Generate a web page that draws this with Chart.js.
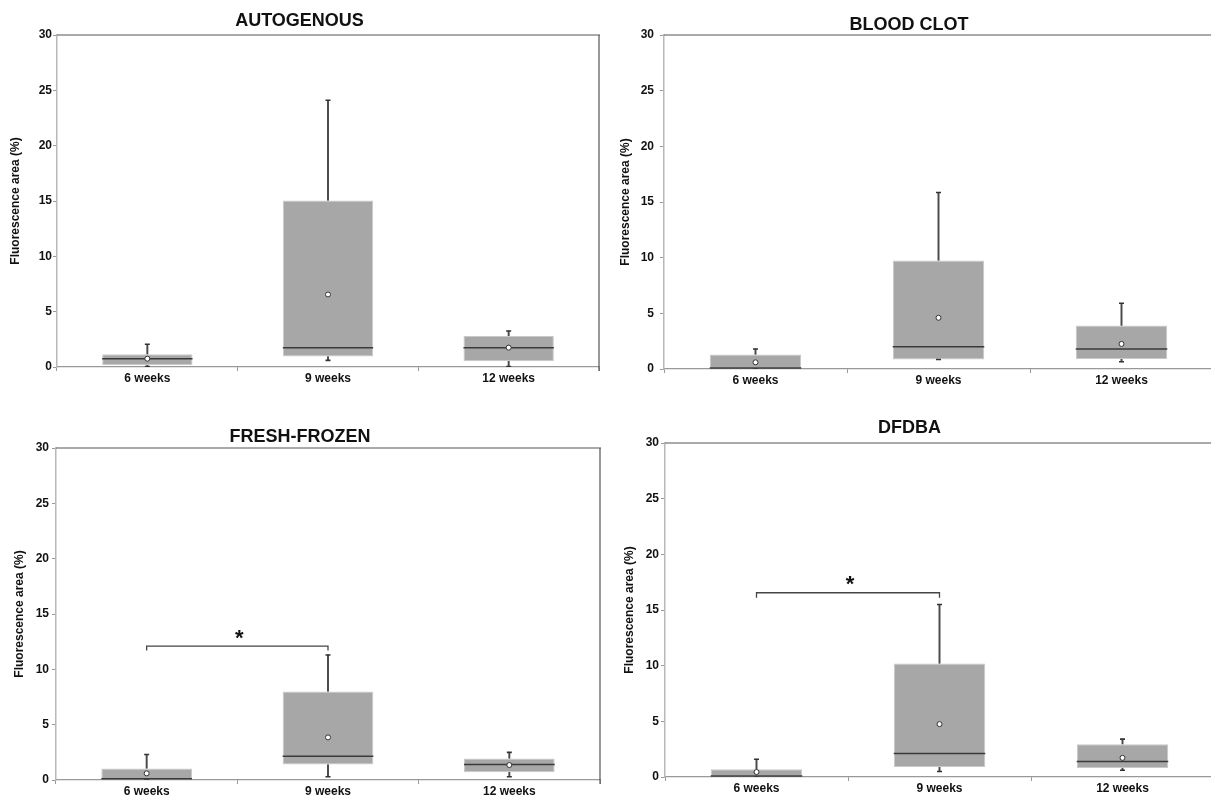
<!DOCTYPE html>
<html>
<head>
<meta charset="utf-8">
<script src="https://cdn.jsdelivr.net/npm/chart.js@4.4.1/dist/chart.umd.min.js"></script>
<style>
  html, body { margin: 0; padding: 0; background: #fff; overflow: hidden; width: 1211px; height: 798px; }
  .panel { position: absolute; }
</style>
</head>
<body>
<div class="panel" id="p0"><canvas id="c0"></canvas></div>
<div class="panel" id="p1"><canvas id="c1"></canvas></div>
<div class="panel" id="p2"><canvas id="c2"></canvas></div>
<div class="panel" id="p3"><canvas id="c3"></canvas></div>
<script>
const categories = ['6 weeks', '9 weeks', '12 weeks'];
const titles = ['AUTOGENOUS', 'BLOOD CLOT', 'FRESH-FROZEN', 'DFDBA'];
const yTicks = [0, 5, 10, 15, 20, 25, 30];

// one row per panel, one value per category
const whiskerLow  = [[0.05, 0.6, 0.05], [0, 0.85, 0.65], [0, 0.3, 0.3], [0, 0.5, 0.6]];
const quart1      = [[0.15, 0.95, 0.55], [0, 0.85, 0.9], [0, 1.4, 0.7], [0, 0.9, 0.8]];
const medians     = [[0.75, 1.75, 1.75], [0.08, 2.0, 1.8], [0.12, 2.15, 1.4], [0.1, 2.1, 1.4]];
const quart3      = [[1.15, 15.05, 2.8], [1.3, 9.75, 3.9], [1.05, 8.0, 1.95], [0.7, 10.2, 2.95]];
const whiskerHigh = [[2.05, 24.1, 3.25], [1.8, 15.85, 5.9], [2.3, 11.3, 2.5], [1.6, 15.5, 3.4]];
const means       = [[0.75, 6.55, 1.75], [0.6, 4.6, 2.25], [0.6, 3.85, 1.35], [0.45, 4.75, 1.72]];

// significance bracket 6 weeks vs 9 weeks: [bar level, leg end, star level]
const signif = [null, null, [12.1, 11.7, 13.35], [16.55, 16.1, 17.8]];

// where each panel sits on the page
const panels = [
  { left: 0,   top: 0,   w: 620, h: 399, L: 57,  R: 599,  T: 35,  B: 367, titleY: 21,    yTitleX: 16,   tickPad: 1, rightBorder: true },
  { left: 605, top: 0,   w: 620, h: 399, L: 664, R: 1213, T: 35,  B: 369, titleY: 25,    yTitleX: 21,   tickPad: 6, rightBorder: false },
  { left: 0,   top: 405, w: 630, h: 393, L: 56,  R: 600,  T: 448, B: 780, titleY: 437,   yTitleX: 19.5, tickPad: 3, rightBorder: true },
  { left: 605, top: 405, w: 638, h: 393, L: 665, R: 1214, T: 443, B: 777, titleY: 428.5, yTitleX: 24.5, tickPad: 2, rightBorder: false }
];

Chart.defaults.font.family = "'Liberation Sans', Arial, sans-serif";
Chart.defaults.color = '#111';

const framePlugin = {
  id: 'frame',
  afterDatasetsDraw(chart, args, opts) {
    const ctx = chart.ctx, a = chart.chartArea;
    ctx.save();
    ctx.strokeStyle = '#555';
    ctx.lineWidth = 1.2;
    ctx.beginPath();
    ctx.moveTo(a.left, a.top);
    ctx.lineTo(a.right + 1, a.top);
    if (opts.right) {
      ctx.moveTo(a.right, a.top);
      ctx.lineTo(a.right, a.bottom + 4);
    }
    ctx.stroke();
    if (opts.star != null) {
      const x = (chart.scales.x.getPixelForValue(0) + chart.scales.x.getPixelForValue(1)) / 2 + 2;
      const y = chart.scales.y.getPixelForValue(opts.star);
      ctx.fillStyle = '#111';
      ctx.font = "bold 22px 'Liberation Sans', Arial, sans-serif";
      ctx.textAlign = 'center';
      ctx.textBaseline = 'alphabetic';
      ctx.fillText('*', x, y + 0.57 * 22);
    }
    ctx.restore();
  }
};

panels.forEach(function (p, i) {
  const div = document.getElementById('p' + i);
  div.style.left = p.left + 'px';
  div.style.top = p.top + 'px';
  const canvas = document.getElementById('c' + i);
  canvas.width = p.w;
  canvas.height = p.h;

  const boxWidth = (p.R - p.L) / 3 * 0.5;
  const titleLine = 18;
  const titleTop = p.titleY - p.top - titleLine / 2;
  const titleBottom = Math.max(0, p.T - p.top - titleTop - titleLine);

  const datasets = [
    {
      type: 'bar', label: 'box', data: categories.map((c, k) => [quart1[i][k], quart3[i][k]]),
      backgroundColor: '#a7a7a7', borderColor: '#c9c9c9', borderWidth: 1, borderSkipped: false,
      grouped: false, barPercentage: 0.5, categoryPercentage: 1, order: 3
    },
    {
      type: 'bar', label: 'upper', data: categories.map((c, k) => [quart3[i][k], whiskerHigh[i][k]]),
      backgroundColor: '#4a4a4a', borderWidth: 0, grouped: false, barThickness: 1.3, order: 4
    },
    {
      type: 'bar', label: 'lower', data: categories.map((c, k) => [whiskerLow[i][k], quart1[i][k]]),
      backgroundColor: '#4a4a4a', borderWidth: 0, grouped: false, barThickness: 1.3, order: 4
    },
    {
      type: 'line', label: 'caps', data: whiskerHigh[i].concat([]), showLine: false,
      pointStyle: 'line', pointRadius: 2.5, pointBorderWidth: 1.6, borderColor: '#333', order: 2
    },
    {
      type: 'line', label: 'capsLow', data: whiskerLow[i].concat([]), showLine: false,
      pointStyle: 'line', pointRadius: 2.5, pointBorderWidth: 1.6, borderColor: '#333', order: 2
    },
    {
      type: 'line', label: 'median', data: medians[i].concat([]), showLine: false,
      pointStyle: 'line', pointRadius: boxWidth / 2, pointBorderWidth: 1.5, borderColor: '#3a3a3a', order: 1
    },
    {
      type: 'line', label: 'mean', data: means[i].concat([]), showLine: false,
      pointStyle: 'circle', pointRadius: 2.5, pointBorderWidth: 1,
      pointBorderColor: '#333', pointBackgroundColor: '#fff', order: 0
    }
  ];

  if (signif[i]) {
    const s = signif[i];
    datasets.push({
      type: 'line', label: 'bracket',
      data: [
        { x: categories[0], y: s[1] }, { x: categories[0], y: s[0] },
        { x: categories[1], y: s[0] }, { x: categories[1], y: s[1] }
      ],
      borderColor: '#444', borderWidth: 1.3, pointRadius: 0, tension: 0, fill: false, order: 0
    });
  }

  new Chart(canvas, {
    data: { labels: categories, datasets: datasets },
    options: {
      responsive: false,
      animation: false,
      events: [],
      layout: { autoPadding: false, padding: { left: 0, right: p.w - (p.R - p.left), top: 0, bottom: 0 } },
      plugins: {
        legend: { display: false },
        tooltip: { enabled: false },
        title: {
          display: true, text: titles[i], color: '#111',
          font: { size: 18, weight: 'bold', lineHeight: 1 },
          padding: { top: titleTop, bottom: titleBottom }
        },
        frame: { right: p.rightBorder, star: signif[i] ? signif[i][2] : null }
      },
      scales: {
        x: {
          type: 'category',
          offset: true,
          grid: { offset: true, drawOnChartArea: false, tickLength: 4, color: '#999' },
          border: { color: '#999', width: 1.2 },
          ticks: { padding: 0, color: '#111', font: { size: 12, weight: 'bold' } },
          afterFit: function (scale) { scale.height = p.h - (p.B - p.top); }
        },
        y: {
          min: 0, max: 30,
          afterBuildTicks: function (scale) { scale.ticks = yTicks.map(v => ({ value: v })); },
          grid: { drawOnChartArea: false, tickLength: 4, color: '#999' },
          border: { color: '#b8b8b8', width: 1.5 },
          ticks: { padding: p.tickPad, color: '#111', font: { size: 12, weight: 'bold' } },
          title: {
            display: true, text: 'Fluorescence area (%)', color: '#111',
            font: { size: 12, weight: 'bold' },
            padding: { top: p.yTitleX - 7.2, bottom: 0 }
          },
          afterFit: function (scale) { scale.width = p.L - p.left; }
        }
      }
    },
    plugins: [framePlugin]
  });
});
</script>
</body>
</html>
